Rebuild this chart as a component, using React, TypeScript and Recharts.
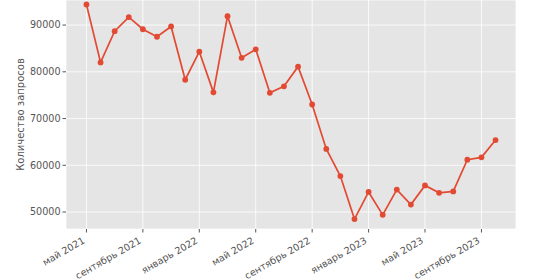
import { LineChart, Line, XAxis, YAxis, CartesianGrid } from "recharts";

// monthly data, May 2021 .. Oct 2023
const months = [
  "2021-05", "2021-06", "2021-07", "2021-08", "2021-09", "2021-10", "2021-11", "2021-12",
  "2022-01", "2022-02", "2022-03", "2022-04", "2022-05", "2022-06", "2022-07", "2022-08",
  "2022-09", "2022-10", "2022-11", "2022-12", "2023-01", "2023-02", "2023-03", "2023-04",
  "2023-05", "2023-06", "2023-07", "2023-08", "2023-09", "2023-10",
];
const requests = [
  94400, 82000, 88700, 91700, 89100, 87500, 89700, 78300,
  84300, 75600, 91900, 83000, 84800, 75500, 76900, 81100,
  73000, 63500, 57700, 48500, 54300, 49400, 54800, 51600,
  55700, 54100, 54400, 61200, 61700, 65400,
];
const xTickIdx = [0, 4, 8, 12, 16, 20, 24, 28];
const xTickLabels = [
  "май 2021", "сентябрь 2021", "январь 2022", "май 2022",
  "сентябрь 2022", "январь 2023", "май 2023", "сентябрь 2023",
];
const yTicks = [50000, 60000, 70000, 80000, 90000];

const data = months.map((m, i) => ({ idx: i, month: m, value: requests[i] }));

const FONT = "'DejaVu Sans', sans-serif";
const GREY = "#555555";

function DateTick({ x, y, payload }: any) {
  const label = xTickLabels[xTickIdx.indexOf(payload.value)] ?? "";
  const ax = x - 1;
  const ay = y + 8;
  return (
    <text
      x={ax}
      y={ay}
      transform={`rotate(-30, ${ax}, ${ay})`}
      textAnchor="end"
      fontSize={9.6}
      fontFamily={FONT}
      fill={GREY}
    >
      {label}
    </text>
  );
}

export default function App() {
  return (
    <div style={{ position: "fixed", left: 0, top: 0, width: 537, height: 280, background: "#fff" }}>
      <LineChart width={537} height={280} data={data} margin={{ top: 0, right: 21, bottom: 0, left: 0 }}>
        <CartesianGrid fill="#E5E5E5" stroke="#ffffff" strokeWidth={0.8} />
        <XAxis
          dataKey="idx"
          type="number"
          domain={[-1.45, 30.45]}
          ticks={xTickIdx}
          tick={<DateTick />}
          tickLine={{ stroke: GREY }}
          tickSize={3.5}
          axisLine={false}
          interval={0}
          height={51}
        />
        <YAxis
          type="number"
          domain={[46370, 95360]}
          ticks={yTicks}
          allowDataOverflow
          tick={{ fontSize: 9.6, fontFamily: FONT, fill: GREY }}
          tickLine={{ stroke: GREY }}
          tickSize={3.5}
          tickMargin={2}
          axisLine={false}
          width={66}
          label={{
            value: "Количество запросов",
            angle: -90,
            position: "insideLeft",
            dx: 15,
            dy: 0,
            style: { fontSize: 10, fontFamily: FONT, fill: GREY, textAnchor: "middle" },
          }}
        />
        <Line
          dataKey="value"
          stroke="#E24A33"
          strokeWidth={1.7}
          dot={{ r: 2.9, fill: "#E24A33", stroke: "#E24A33", strokeWidth: 0 }}
          isAnimationActive={false}
        />
      </LineChart>
    </div>
  );
}
